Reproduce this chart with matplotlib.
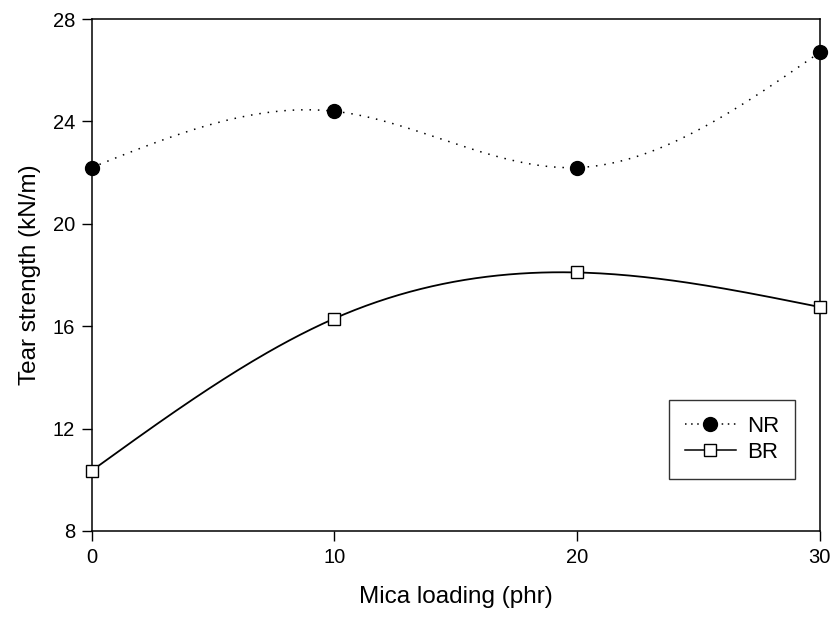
import numpy as np
import matplotlib
matplotlib.use("Agg")
import matplotlib.pyplot as plt

# Data
mica_loading = [0, 10, 20, 30]
nr_tear = [22.2, 24.4, 22.2, 26.7]
br_tear = [10.35, 16.3, 18.1, 16.75]


def natural_spline(x, y, n=200):
    """Natural cubic spline through the points, for drawing a smooth line."""
    x = np.asarray(x, float)
    y = np.asarray(y, float)
    m = len(x)
    h = np.diff(x)
    A = np.zeros((m, m))
    b = np.zeros(m)
    A[0, 0] = A[-1, -1] = 1
    for i in range(1, m - 1):
        A[i, i - 1] = h[i - 1]
        A[i, i] = 2 * (h[i - 1] + h[i])
        A[i, i + 1] = h[i]
        b[i] = 6 * ((y[i + 1] - y[i]) / h[i] - (y[i] - y[i - 1]) / h[i - 1])
    M = np.linalg.solve(A, b)
    xs = np.linspace(x[0], x[-1], n)
    ys = np.empty_like(xs)
    for k, xv in enumerate(xs):
        i = min(np.searchsorted(x, xv, side="right") - 1, m - 2)
        t0, t1 = x[i + 1] - xv, xv - x[i]
        ys[k] = (M[i] * t0 ** 3 + M[i + 1] * t1 ** 3) / (6 * h[i]) \
            + (y[i] / h[i] - M[i] * h[i] / 6) * t0 \
            + (y[i + 1] / h[i] - M[i + 1] * h[i] / 6) * t1
    return xs, ys


plt.rcParams["font.family"] = ["Liberation Sans", "DejaVu Sans"]

fig = plt.figure(figsize=(8.33, 6.18), dpi=100)
ax = fig.add_axes([0.110, 0.141, 0.874, 0.828])

dots = (0, (1, 4.5))

xs, ys = natural_spline(mica_loading, nr_tear)
ax.plot(xs, ys, color="black", lw=1.1, linestyle=dots, clip_on=False)
ax.plot(mica_loading, nr_tear, "o", color="black", ms=10, clip_on=False, zorder=5)

xs, ys = natural_spline(mica_loading, br_tear)
ax.plot(xs, ys, color="black", lw=1.3, clip_on=False)
ax.plot(mica_loading, br_tear, "s", mfc="white", mec="black", mew=1.0, ms=9,
        clip_on=False, zorder=5)

# legend proxies
ax.plot([], [], color="black", lw=1.1, linestyle=(0, (1, 3)), marker="o",
        ms=10, label="NR")
ax.plot([], [], color="black", lw=1.1, marker="s", mfc="white", mec="black",
        ms=9, label="BR")
leg = ax.legend(loc="lower right", bbox_to_anchor=(0.966, 0.102), fontsize=16,
                frameon=True, fancybox=False, edgecolor="black",
                handlelength=2.3, borderpad=0.7, labelspacing=0.25,
                handletextpad=0.5, borderaxespad=0)
leg.get_frame().set_linewidth(1.0)

ax.set_xlim(0, 30)
ax.set_ylim(8, 28)
ax.set_xticks([0, 10, 20, 30])
ax.set_yticks([8, 12, 16, 20, 24, 28])
ax.tick_params(direction="out", length=7, width=1, labelsize=14.5, pad=5)
for spine in ax.spines.values():
    spine.set_linewidth(1.1)

ax.set_xlabel("Mica loading (phr)", fontsize=17.5, labelpad=14)
ax.set_ylabel("Tear strength (kN/m)", fontsize=17.5, labelpad=8)

fig.savefig("out.png", dpi=100)
